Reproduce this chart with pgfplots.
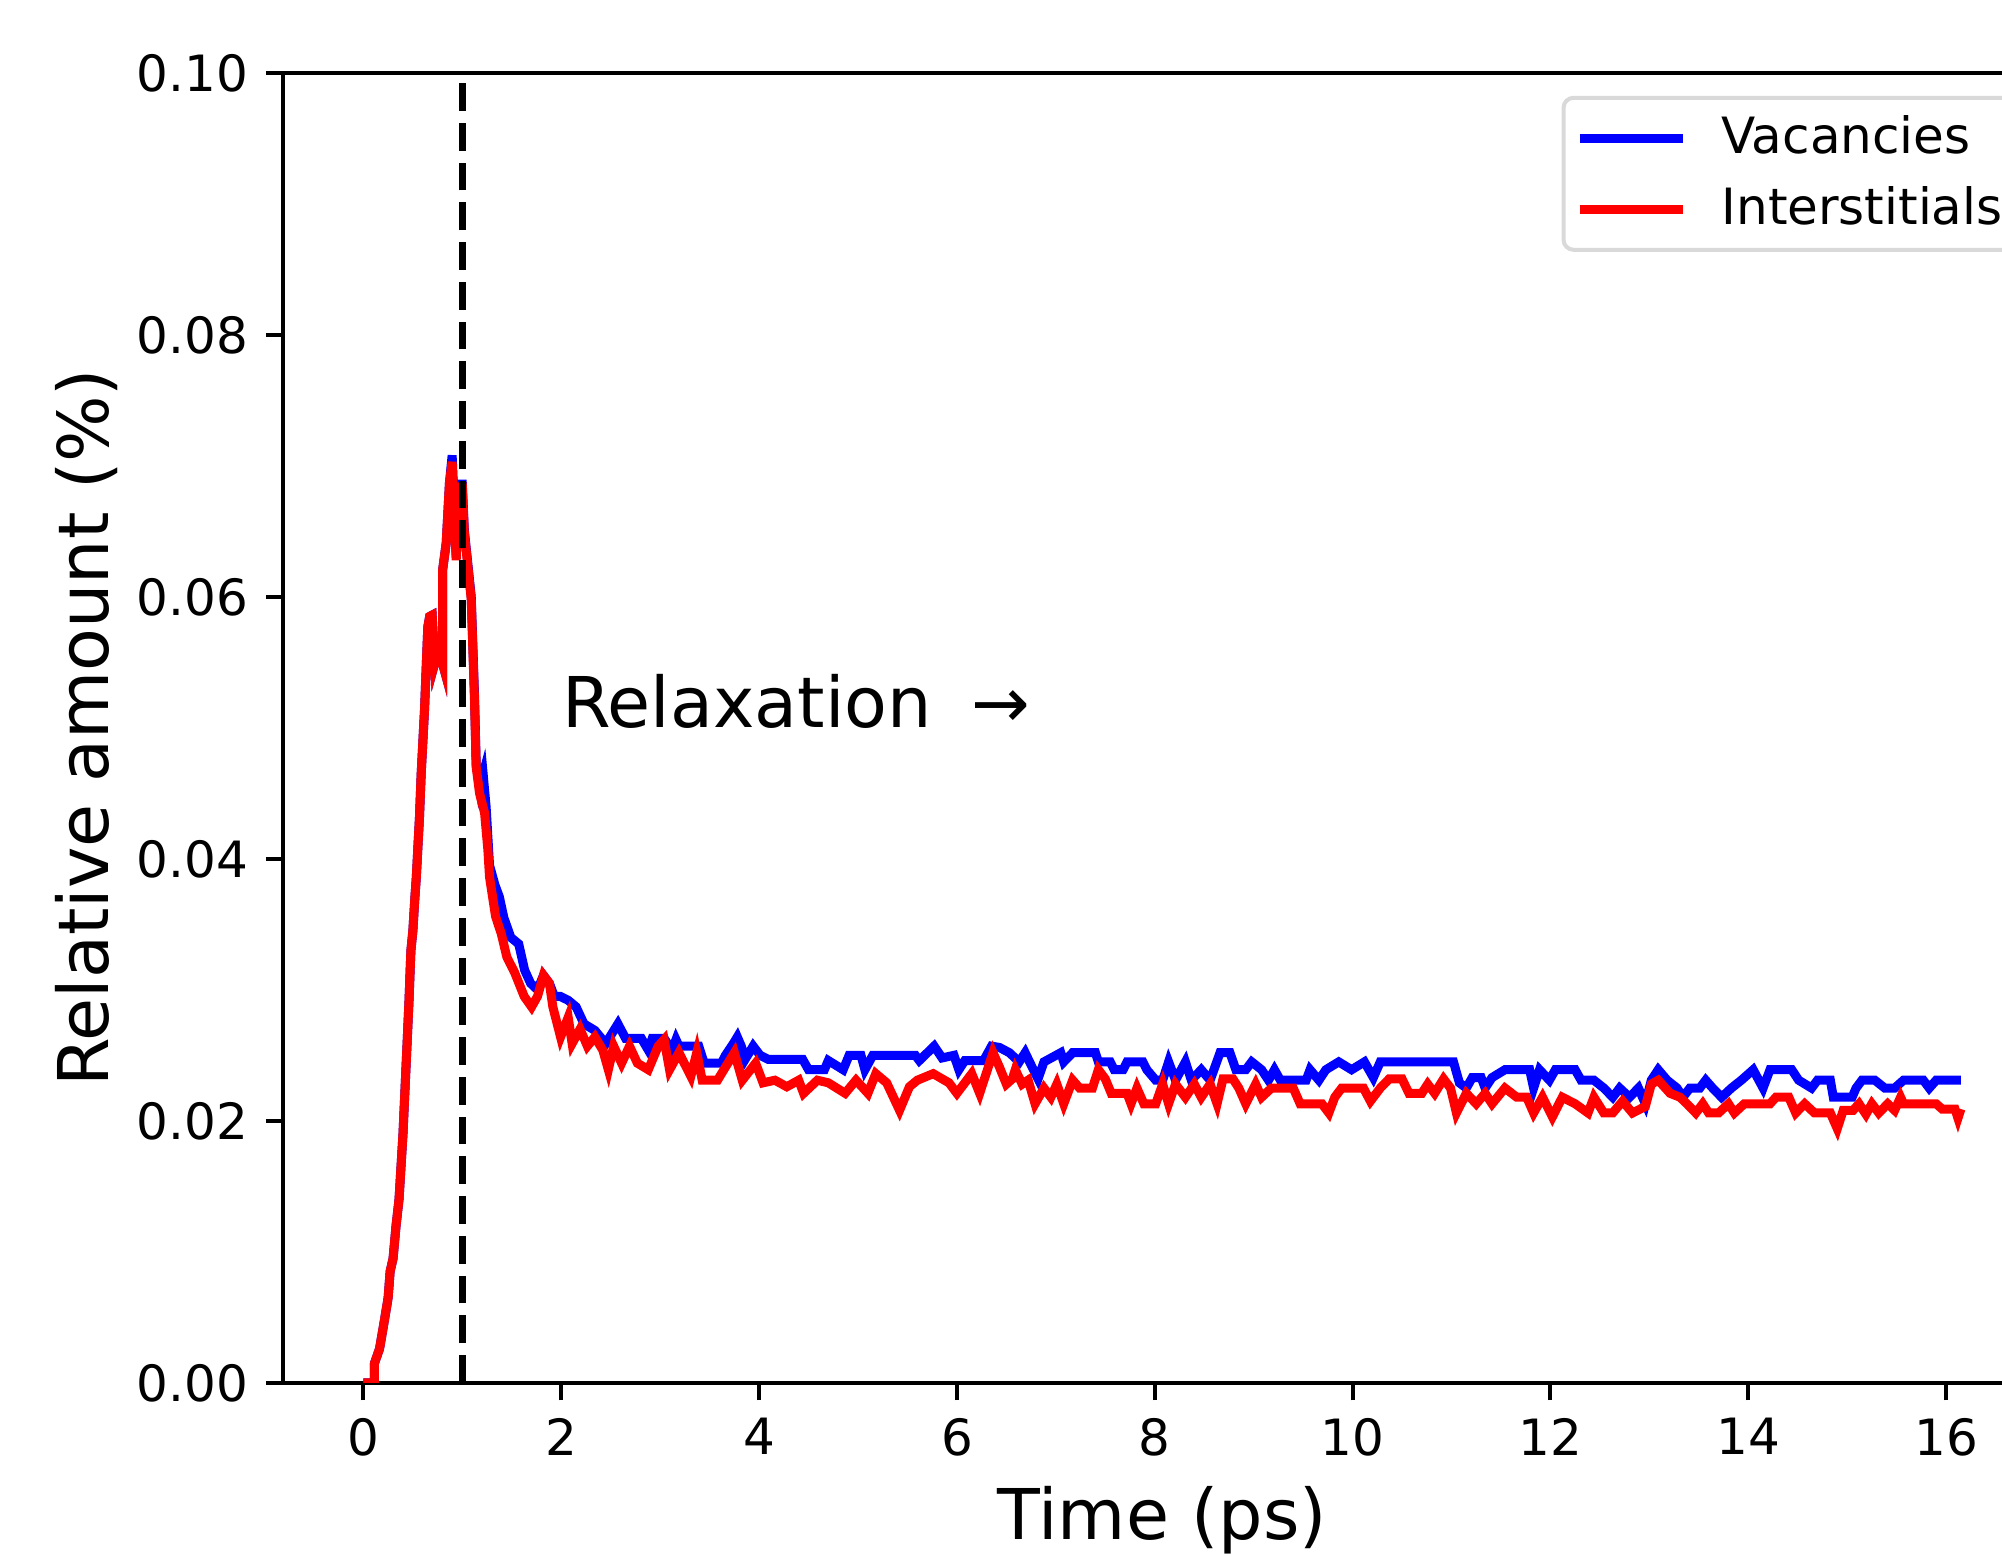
\documentclass[border=0pt]{standalone}
\usepackage{pgfplots}
\pgfplotsset{compat=1.18}
\usepackage{fontspec}
\setmainfont{DejaVu Sans}
\definecolor{mplblue}{RGB}{0,0,255}
\definecolor{mplred}{RGB}{255,0,0}
\begin{document}
\begin{tikzpicture}
\begin{axis}[
  scale only axis,
  width=351.5pt, height=262pt,
  xmin=-0.808, xmax=16.96, ymin=0, ymax=0.1,
  axis line style={line width=0.8pt},
  tick pos=left, tick align=outside,
  major tick length=3.5pt,
  every tick/.style={black, line width=0.8pt},
  xtick={0,2,4,6,8,10,12,14,16},
  ytick={0,0.02,0.04,0.06,0.08,0.1},
  scaled y ticks=false,
  yticklabel style={/pgf/number format/.cd, fixed, fixed zerofill, precision=2},
  /pgf/number format/assume math mode=true,
  tick label style={font=\fontsize{10}{12}\selectfont},
  label style={font=\fontsize{14}{17}\selectfont},
  xlabel={Time (ps)},
  ylabel={Relative amount (\%)},
  xlabel style={yshift=0.8pt},
  ylabel style={yshift=-3pt},
  legend cell align=left,
  legend style={at={(rel axis cs:1,1)}, anchor=north east, xshift=-5pt, yshift=-4.6pt,
    draw=black!15, line width=0.8pt, rounded corners=2pt, fill=white,
    font=\fontsize{10}{12}\selectfont, inner xsep=2.3pt, inner ysep=1.6pt, row sep=1.0pt,
    nodes={inner xsep=0pt}},
  legend image code/.code={\draw[#1, line width=1.8pt] (0pt,0pt) -- (20.6pt,0pt);},
  /tikz/every odd column/.append style={column sep=6.9pt},
]
\addplot[mplblue, line width=1.8pt] coordinates {
(0,0) (0.11,0) (0.112,0.0015) (0.163,0.0026) (0.213,0.0048) (0.25,0.0065) (0.27,0.0085)
(0.30,0.0095) (0.33,0.0120) (0.36,0.0140) (0.40,0.0190) (0.43,0.0240) (0.46,0.0290)
(0.48,0.0330) (0.50,0.0345) (0.52,0.0370) (0.534,0.0385) (0.567,0.0432) (0.584,0.0465)
(0.618,0.0514) (0.651,0.0577) (0.67,0.0585) (0.695,0.0586) (0.72,0.0549) (0.76,0.0560)
(0.80,0.0549) (0.80,0.062) (0.837,0.0641) (0.87,0.0687) (0.897,0.0708) (0.938,0.0630)
(0.965,0.0686) (1.0,0.0686) (1.02,0.0651) (1.056,0.0625) (1.09,0.0600) (1.123,0.0525)
(1.14,0.0472) (1.174,0.0455) (1.21,0.0465) (1.24,0.0440) (1.275,0.0395) (1.33,0.0380)
(1.374,0.0371) (1.42,0.0355) (1.49,0.0340) (1.57,0.0335) (1.63,0.0315) (1.69,0.0305)
(1.76,0.0300) (1.82,0.0311) (1.88,0.0305) (1.93,0.0295) (1.99,0.0295) (2.07,0.0292)
(2.15,0.0287) (2.23,0.0274) (2.34,0.0269) (2.45,0.0259) (2.573,0.0274) (2.65,0.0263)
(2.81,0.0263) (2.88,0.0254) (2.92,0.0263) (3.04,0.0263) (3.12,0.0254) (3.16,0.0262)
(3.19,0.0257) (3.39,0.0257) (3.445,0.0244) (3.62,0.0244) (3.66,0.0250) (3.74,0.0259)
(3.78,0.0264) (3.82,0.0257) (3.86,0.0247) (3.94,0.0257) (4.01,0.0250) (4.09,0.0247)
(4.44,0.0247) (4.50,0.0239) (4.66,0.0239) (4.70,0.0246) (4.85,0.0239) (4.91,0.0250)
(5.03,0.0250) (5.07,0.0239) (5.15,0.0250) (5.58,0.0250) (5.62,0.0246) (5.77,0.0257)
(5.85,0.0248) (5.97,0.0250) (6.02,0.0239) (6.08,0.0246) (6.27,0.0246) (6.35,0.0257)
(6.43,0.0256) (6.53,0.0252) (6.63,0.0245) (6.69,0.0252) (6.76,0.0241) (6.82,0.0232)
(6.88,0.0245) (7.05,0.0252) (7.08,0.0245) (7.17,0.0252) (7.40,0.0252) (7.43,0.0245)
(7.55,0.0245) (7.59,0.0239) (7.68,0.0239) (7.72,0.0245) (7.88,0.0245) (7.92,0.0239)
(8.01,0.0231) (8.08,0.0231) (8.14,0.0245) (8.21,0.0231) (8.31,0.0245) (8.37,0.0231)
(8.47,0.0239) (8.56,0.0231) (8.66,0.0252) (8.76,0.0252) (8.82,0.0239) (8.92,0.0239)
(8.98,0.0245) (9.08,0.0239) (9.15,0.0231) (9.21,0.0239) (9.27,0.0231) (9.53,0.0231)
(9.57,0.0239) (9.66,0.0231) (9.73,0.0239) (9.86,0.0245) (9.99,0.0239) (10.12,0.0245)
(10.21,0.0233) (10.28,0.0245) (11.02,0.0245) (11.08,0.0229) (11.15,0.0225) (11.21,0.0233)
(11.30,0.0233) (11.34,0.0225) (11.41,0.0233) (11.54,0.0239) (11.79,0.0239) (11.83,0.0225)
(11.89,0.0239) (11.99,0.0231) (12.05,0.0239) (12.25,0.0239) (12.31,0.0231) (12.44,0.0231)
(12.54,0.0225) (12.63,0.0218) (12.70,0.0225) (12.80,0.0218) (12.89,0.0225) (12.96,0.0213)
(13.02,0.0231) (13.09,0.0239) (13.18,0.0231) (13.28,0.0225) (13.34,0.0218) (13.41,0.0225)
(13.51,0.0225) (13.57,0.0231) (13.64,0.0225) (13.73,0.0218) (13.83,0.0225) (13.93,0.0231)
(14.05,0.0239) (14.15,0.0225) (14.22,0.0239) (14.44,0.0239) (14.51,0.0231) (14.64,0.0225)
(14.70,0.0231) (14.83,0.0231) (14.86,0.0218) (15.05,0.0218) (15.09,0.0225) (15.15,0.0231)
(15.28,0.0231) (15.38,0.0225) (15.48,0.0225) (15.57,0.0231) (15.77,0.0231) (15.83,0.0225)
(15.90,0.0231) (16.15,0.0231)
};
\addlegendentry{Vacancies}
\addplot[mplred, line width=1.8pt] coordinates {
(0,0) (0.11,0) (0.112,0.0015) (0.163,0.0026) (0.213,0.0048) (0.25,0.0065) (0.27,0.0085)
(0.30,0.0095) (0.33,0.0120) (0.36,0.0140) (0.40,0.0190) (0.43,0.0240) (0.46,0.0290)
(0.48,0.0330) (0.50,0.0345) (0.52,0.0370) (0.534,0.0385) (0.567,0.0432) (0.584,0.0465)
(0.618,0.0514) (0.651,0.0577) (0.67,0.0585) (0.695,0.0586) (0.72,0.0549) (0.76,0.0560)
(0.80,0.0549) (0.80,0.062) (0.837,0.0641) (0.87,0.0687) (0.897,0.0703) (0.938,0.0628)
(0.965,0.0684) (1.0,0.0684) (1.02,0.0649) (1.056,0.0623) (1.09,0.0598) (1.123,0.0521)
(1.14,0.0470) (1.174,0.0450) (1.225,0.0435) (1.258,0.0407) (1.275,0.0386) (1.336,0.0356)
(1.393,0.0343) (1.45,0.0325) (1.53,0.0313) (1.625,0.0295) (1.70,0.0287) (1.76,0.0295)
(1.82,0.0311) (1.88,0.0305) (1.915,0.0287) (1.993,0.0264) (2.07,0.0279) (2.11,0.0259)
(2.19,0.0270) (2.264,0.0257) (2.34,0.0264) (2.42,0.0254) (2.476,0.0239) (2.53,0.0257)
(2.61,0.0244) (2.69,0.0257) (2.77,0.0244) (2.88,0.0239) (2.98,0.0257) (3.04,0.0262)
(3.095,0.0239) (3.19,0.0252) (3.31,0.0234) (3.37,0.0252) (3.425,0.0231) (3.58,0.0231)
(3.66,0.0241) (3.75,0.0252) (3.83,0.0231) (3.965,0.0244) (4.04,0.0229) (4.16,0.0231)
(4.28,0.0226) (4.40,0.0231) (4.45,0.0221) (4.59,0.0231) (4.70,0.0229) (4.87,0.0221)
(4.98,0.0231) (5.10,0.0221) (5.18,0.0236) (5.29,0.0229) (5.42,0.0208) (5.52,0.0226)
(5.60,0.0231) (5.76,0.0236) (5.92,0.0229) (6.00,0.0221) (6.15,0.0236) (6.23,0.0221)
(6.365,0.0252) (6.43,0.0241) (6.50,0.0228) (6.56,0.0232) (6.59,0.0239) (6.66,0.0228)
(6.72,0.0231) (6.79,0.0213) (6.88,0.0225) (6.95,0.0218) (7.01,0.0228) (7.08,0.0213)
(7.17,0.0231) (7.24,0.0225) (7.37,0.0225) (7.43,0.0239) (7.50,0.0232) (7.56,0.0221)
(7.72,0.0221) (7.76,0.0213) (7.82,0.0225) (7.89,0.0213) (8.01,0.0213) (8.08,0.0228)
(8.14,0.0213) (8.21,0.0228) (8.31,0.0218) (8.40,0.0228) (8.47,0.0218) (8.56,0.0228)
(8.63,0.0213) (8.69,0.0232) (8.79,0.0232) (8.85,0.0225) (8.92,0.0213) (9.02,0.0228)
(9.08,0.0218) (9.18,0.0225) (9.40,0.0225) (9.47,0.0213) (9.69,0.0213) (9.76,0.0206)
(9.82,0.0218) (9.89,0.0225) (10.11,0.0225) (10.18,0.0215) (10.28,0.0225) (10.37,0.0232)
(10.50,0.0232) (10.57,0.0221) (10.70,0.0221) (10.76,0.0228) (10.83,0.0221) (10.92,0.0232)
(10.99,0.0225) (11.05,0.0206) (11.15,0.0221) (11.25,0.0213) (11.34,0.0221) (11.41,0.0213)
(11.54,0.0225) (11.66,0.0218) (11.76,0.0218) (11.83,0.0206) (11.92,0.0218) (12.02,0.0203)
(12.12,0.0218) (12.25,0.0213) (12.38,0.0206) (12.44,0.0218) (12.54,0.0206) (12.63,0.0206)
(12.73,0.0215) (12.83,0.0206) (12.96,0.0211) (13.02,0.0228) (13.09,0.0231) (13.21,0.0221)
(13.31,0.0218) (13.38,0.0213) (13.47,0.0206) (13.54,0.0213) (13.60,0.0206) (13.70,0.0206)
(13.80,0.0213) (13.86,0.0206) (13.96,0.0213) (14.22,0.0213) (14.28,0.0218) (14.41,0.0218)
(14.48,0.0206) (14.57,0.0213) (14.67,0.0206) (14.83,0.0206) (14.90,0.0194) (14.96,0.0208)
(15.06,0.0208) (15.12,0.0213) (15.19,0.0205) (15.25,0.0213) (15.32,0.0206) (15.41,0.0213)
(15.48,0.0208) (15.54,0.0218) (15.57,0.0213) (15.90,0.0213) (15.96,0.0209) (16.09,0.0209)
(16.12,0.0202) (16.15,0.0209)
};
\addlegendentry{Interstitials}
\addplot[black, line width=1.5pt, dash pattern=on 5.55pt off 2.4pt, forget plot] coordinates {(1,0) (1,0.1)};
\node[anchor=base west, inner sep=0pt, font=\fontsize{14}{17}\selectfont] at (axis cs:2,0.05) {Relaxation\hspace{0.57em}→};
\end{axis}
\pgfresetboundingbox
\useasboundingbox (-56.7pt,-34.66pt) rectangle (343.7pt,276.56pt);
\end{tikzpicture}
\end{document}
